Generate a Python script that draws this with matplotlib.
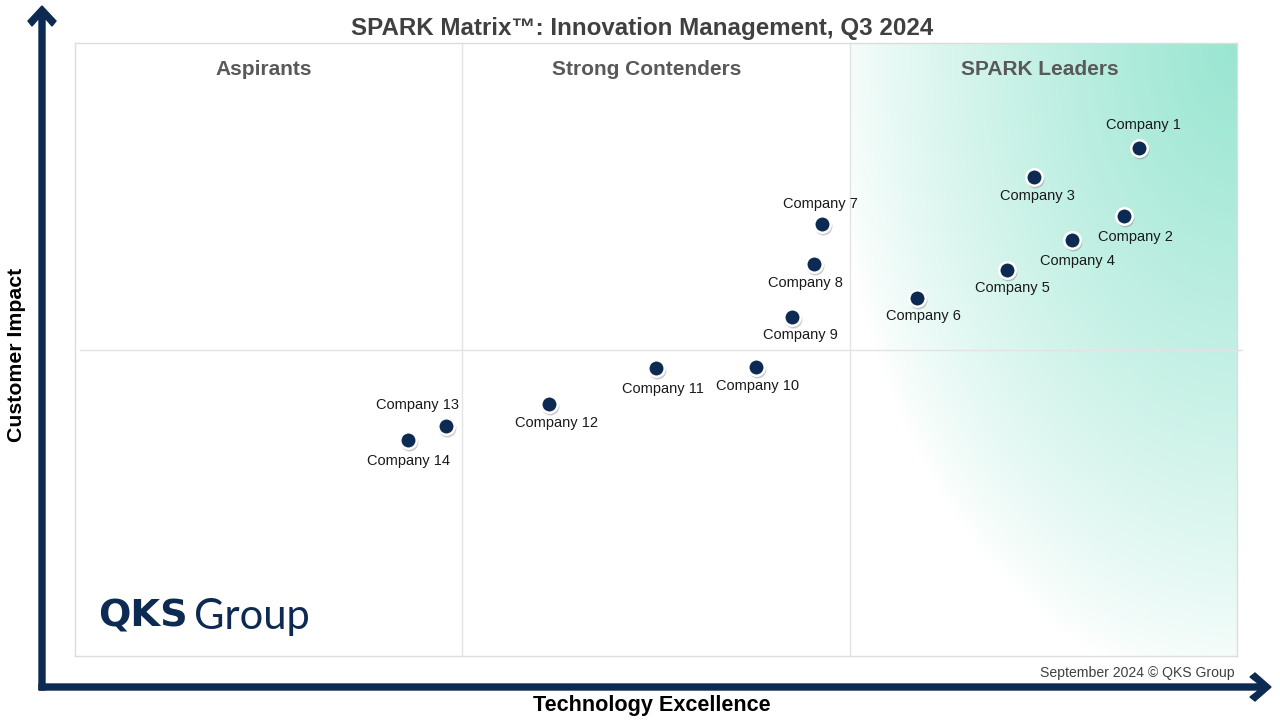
import numpy as np
import matplotlib
matplotlib.use("Agg")
import matplotlib.pyplot as plt
from matplotlib.patches import Polygon
import matplotlib.transforms as mtrans

# ---------------- data ----------------
companies = ["Company 1", "Company 2", "Company 3", "Company 4", "Company 5",
             "Company 6", "Company 7", "Company 8", "Company 9", "Company 10",
             "Company 11", "Company 12", "Company 13", "Company 14"]
tech_excellence = [91.6, 90.3, 82.5, 85.8, 80.2, 72.5, 64.3, 63.6, 61.7, 58.6,
                   50.0, 40.8, 31.9, 28.7]
customer_impact = [82.9, 71.8, 78.1, 67.9, 63.0, 58.4, 70.5, 63.9, 55.3, 47.1,
                   47.0, 41.1, 37.5, 35.2]
quadrant_names = ["Aspirants", "Strong Contenders", "SPARK Leaders"]
title = "SPARK Matrix\u2122: Innovation Management, Q3 2024"
x_label = "Technology Excellence"
y_label = "Customer Impact"
footer = "September 2024 \u00a9 QKS Group"

# label placement (pixel offsets from each dot)
label_offsets = [(4, 23), (11, -21), (4, -19), (5, -21), (6, -18), (6, -18),
                 (-2, 20), (-9, -19), (8, -18), (2, -19), (7, -21), (7, -19),
                 (-28, 21), (0, -21)]

NAVY = "#0d2b52"
W, H = 1280, 720
fig = plt.figure(figsize=(12.8, 7.2), dpi=100)
fig.patch.set_facecolor("white")

# main plotting axes (plot box)
L, T, R, B = 75, 43, 1237, 656
ax = fig.add_axes([L / W, (H - B) / H, (R - L) / W, (B - T) / H])
ax.set_xlim(0, 100)
ax.set_ylim(0, 100)
ax.set_xticks([])
ax.set_yticks([])
for s in ax.spines.values():
    s.set_color("#dcdcdc")
    s.set_linewidth(1.0)

# overlay axes in pixel coordinates for decorations (on top, transparent)
ov = fig.add_axes([0, 0, 1, 1], zorder=5)
ov.set_xlim(0, W)
ov.set_ylim(H, 0)
ov.axis("off")
ov.patch.set_alpha(0)

# gradient in leaders column
nx, ny = 300, 400
u = np.linspace(1, 0, nx)[None, :]          # 0 at right edge
v = np.linspace(0, 1, ny)[:, None]          # 0 at top
r = np.sqrt(u ** 2 + v ** 2)
t = np.clip(1 - r / 1.06, 0, 1) ** 0.8
green = np.array([0.60, 0.90, 0.82])
img = np.ones((ny, nx, 3)) * (1 - t[..., None]) + green * t[..., None]
x0 = 100 * 2 / 3
ax.imshow(img, extent=[x0, 100, 0, 100], origin="upper", aspect="auto",
          zorder=0, interpolation="bilinear")

# dividers
for xv in [100 / 3, 200 / 3]:
    ax.plot([xv, xv], [0, 100], color="#e3e3e3", lw=1.0, zorder=1)
ax.plot([0.4, 100.4], [50, 50], color="#e3e3e3", lw=1.0, zorder=1, clip_on=False)

# quadrant labels
q_shift = [-0.4, -0.8, -0.3]
for i, name in enumerate(quadrant_names):
    ax.text((i + 0.5) * 100 / 3 + q_shift[i], 95.7, name, ha="center", va="center",
            fontsize=15, fontweight="bold", color="#595959",
            family=["Liberation Sans", "DejaVu Sans"])

# dots with shadow
shadow = ax.transData + mtrans.ScaledTranslation(1 / 100, -2 / 100, fig.dpi_scale_trans)
ax.scatter(tech_excellence, customer_impact, s=165, color="#8a8a8a", alpha=0.45,
           zorder=3, linewidths=0, transform=shadow)
ax.scatter(tech_excellence, customer_impact, s=140, color=NAVY,
           edgecolors="white", linewidths=1.8, zorder=4)

for name, xv, yv, off in zip(companies, tech_excellence, customer_impact, label_offsets):
    ax.annotate(name, (xv, yv), xytext=off, textcoords="offset pixels",
                ha="center", va="center", fontsize=10.5, color="#1a1a1a",
                family=["Liberation Sans", "DejaVu Sans"], zorder=5)

# title
ov.text(642, 28, title, ha="center", va="center", fontsize=17.4,
        fontweight="bold", color="#404040",
        family=["Liberation Sans", "DejaVu Sans"])

# axis arrows
vert = Polygon([(42, 6), (56, 21), (52, 26), (45, 18), (45, 690), (39, 690),
                (39, 18), (32, 26), (28, 21)], closed=True, color=NAVY, zorder=5)
horiz = Polygon([(1271, 687), (1255, 701), (1250, 697), (1259, 690), (39, 690),
                 (39, 684), (1259, 684), (1250, 677), (1255, 673)], closed=True,
                color=NAVY, zorder=5)
ov.add_patch(vert)
ov.add_patch(horiz)

ov.text(17, 355, y_label, rotation=90, ha="center", va="center", fontsize=15.3,
        fontweight="bold", color="black", family=["Liberation Sans", "DejaVu Sans"])
ov.text(652, 705, x_label, ha="center", va="center", fontsize=15.6,
        fontweight="bold", color="black", family=["Liberation Sans", "DejaVu Sans"])
ov.text(1235, 673, footer, ha="right", va="center", fontsize=10.1,
        color="#404040", family=["Liberation Sans", "DejaVu Sans"])

# logo
ov.text(98, 616, "QKS", ha="left", va="center", fontsize=27.5,
        fontweight="bold", color=NAVY, family=["DejaVu Sans"])
ov.text(194, 617, "Group", ha="left", va="center", fontsize=30,
        color=NAVY, family=["Lato", "DejaVu Sans"])

fig.savefig("out.png", dpi=100)
